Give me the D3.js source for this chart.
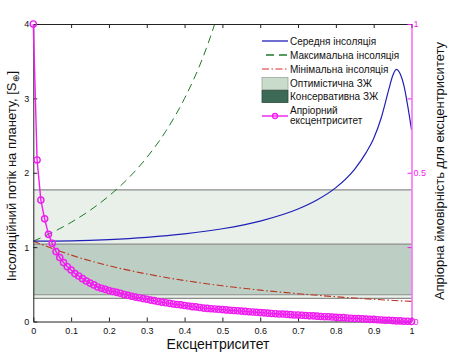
<!DOCTYPE html>
<html><head><meta charset="utf-8">
<script src="https://cdn.jsdelivr.net/npm/d3@7/dist/d3.min.js"></script>
<style>
html,body{margin:0;padding:0;background:#fff;}
svg{display:block;font-family:"Liberation Sans",Arial,sans-serif;}
</style></head>
<body><svg id="c" width="450" height="355"></svg>
<script>
// ---- data ----
const ecc = [0,0.01,0.02,0.03,0.04,0.05,0.06,0.07,0.08,0.09,0.10,0.11,0.12,0.13,0.14,0.15,0.16,0.17,0.18,0.19,0.20,0.21,0.22,0.23,0.24,0.25,0.26,0.27,0.28,0.29,0.30,0.31,0.32,0.33,0.34,0.35,0.36,0.37,0.38,0.39,0.40,0.41,0.42,0.43,0.44,0.45,0.46,0.47,0.48,0.49,0.50,0.51,0.52,0.53,0.54,0.55,0.56,0.57,0.58,0.59,0.60,0.61,0.62,0.63,0.64,0.65,0.66,0.67,0.68,0.69,0.70,0.71,0.72,0.73,0.74,0.75,0.76,0.77,0.78,0.79,0.80,0.81,0.82,0.83,0.84,0.85,0.86,0.87,0.88,0.89,0.90,0.91,0.92,0.93,0.94,0.95,0.96,0.97,0.98,0.99,1.00];
const priorProb = [1.000,0.543,0.408,0.345,0.293,0.263,0.235,0.215,0.198,0.184,0.173,0.161,0.153,0.144,0.136,0.129,0.123,0.116,0.112,0.108,0.104,0.101,0.098,0.095,0.091,0.088,0.085,0.082,0.080,0.077,0.075,0.072,0.070,0.067,0.065,0.063,0.061,0.059,0.057,0.056,0.054,0.052,0.050,0.049,0.047,0.045,0.044,0.043,0.042,0.041,0.040,0.039,0.038,0.037,0.036,0.035,0.034,0.033,0.032,0.031,0.030,0.029,0.028,0.027,0.026,0.025,0.025,0.024,0.023,0.022,0.022,0.021,0.020,0.019,0.019,0.018,0.017,0.016,0.016,0.015,0.014,0.013,0.013,0.012,0.011,0.010,0.010,0.009,0.008,0.007,0.007,0.006,0.005,0.004,0.004,0.003,0.002,0.002,0.001,0.001,0.000];

const meanE = [0,0.1,0.2,0.3,0.4,0.5,0.6,0.7,0.75,0.8,0.85,0.88,0.9,0.92,0.94,0.95,0.96,0.97,0.98,0.99,1.0];
const meanFlux = [1.08,1.085,1.102,1.132,1.178,1.247,1.35,1.512,1.633,1.80,2.05,2.27,2.46,2.74,3.12,3.30,3.39,3.33,3.17,2.90,2.58];

const maxE = [0,0.05,0.1,0.15,0.2,0.25,0.3,0.35,0.4,0.45,0.5];
const maxFlux = [1.08,1.197,1.333,1.495,1.688,1.92,2.204,2.556,3.0,3.57,4.32];

const minE = [0,0.1,0.2,0.3,0.4,0.5,0.6,0.7,0.8,0.9,1.0];
const minFlux = [1.08,0.893,0.75,0.639,0.551,0.48,0.422,0.374,0.333,0.299,0.27];

const optimisticZone = [0.31,1.77];
const conservativeZone = [0.36,1.04];

const xTicks = [0,0.1,0.2,0.3,0.4,0.5,0.6,0.7,0.8,0.9,1];
const xTickLabels = ["0","0.1","0.2","0.3","0.4","0.5","0.6","0.7","0.8","0.9","1"];
const yTicks = [0,1,2,3,4];
const yTickLabels = ["0","1","2","3","4"];
const yRTicks = [0,0.25,0.5,0.75,1];
const yRTickLabels = ["0","","0.5","","1"];

const legendLabels = ["Середня інсоляція","Максимальна інсоляція","Мінімальна інсоляція","Оптимістична ЗЖ","Консервативна ЗЖ","Апріорний","ексцентриситет"];

// ---- chart ----
const svg = d3.select("#c");
const L=33.3, R=411.5, T=24, B=321.5;
const x = d3.scaleLinear().domain([0,1]).range([L,R]);
const y = d3.scaleLinear().domain([0,4]).range([B,T]);
const yR = d3.scaleLinear().domain([0,1]).range([B,T]);

svg.append("defs").append("clipPath").attr("id","clip")
  .append("rect").attr("x",L).attr("y",T).attr("width",R-L).attr("height",B-T);

const cBlue="#2020b8", cGreen="#1e7a2a", cRed="#b8341e", cMag="#f01cf0";
const optFill="rgba(201,220,203,0.42)", conFill="rgba(60,106,86,0.25)";

const g = svg.append("g").attr("clip-path","url(#clip)");
// zones
g.append("rect").attr("x",L).attr("width",R-L)
  .attr("y",y(optimisticZone[1])).attr("height",y(optimisticZone[0])-y(optimisticZone[1]))
  .attr("fill",optFill);
g.append("rect").attr("x",L).attr("width",R-L)
  .attr("y",y(conservativeZone[1])).attr("height",y(conservativeZone[0])-y(conservativeZone[1]))
  .attr("fill",conFill);
[...optimisticZone,...conservativeZone].forEach(v=>{
  g.append("line").attr("x1",L).attr("x2",R).attr("y1",y(v)).attr("y2",y(v))
    .attr("stroke","#8c8c8c").attr("stroke-width",1.2);
});

const line = d3.line().curve(d3.curveMonotoneX);
g.append("path").attr("d",line(maxE.map((e,i)=>[x(e),y(maxFlux[i])])))
  .attr("fill","none").attr("stroke",cGreen).attr("stroke-width",1).attr("stroke-dasharray","8,5");
g.append("path").attr("d",line(minE.map((e,i)=>[x(e),y(minFlux[i])])))
  .attr("fill","none").attr("stroke",cRed).attr("stroke-width",1.1).attr("stroke-dasharray","7,2.5,1.5,2.5");
g.append("path").attr("d",line(meanE.map((e,i)=>[x(e),y(meanFlux[i])])))
  .attr("fill","none").attr("stroke",cBlue).attr("stroke-width",1.2);

// axes
const fontSize = 9;
const ax = svg.append("g");
const axLeft = ax.append("g").attr("transform",`translate(${L},0)`)
  .call(d3.axisLeft(y).tickValues(yTicks).tickFormat((d,i)=>yTickLabels[i]).tickSize(-4).tickSizeOuter(0).tickPadding(4));
const axBottom = ax.append("g").attr("transform",`translate(0,${B})`)
  .call(d3.axisBottom(x).tickValues(xTicks).tickFormat((d,i)=>xTickLabels[i]).tickSize(-4).tickSizeOuter(0).tickPadding(6));
const axTop = ax.append("g").attr("transform",`translate(0,${T})`)
  .call(d3.axisTop(x).tickValues(xTicks).tickFormat("").tickSize(-4).tickSizeOuter(0));
const axRight = ax.append("g").attr("transform",`translate(${R},0)`)
  .call(d3.axisRight(yR).tickValues(yRTicks).tickFormat((d,i)=>yRTickLabels[i]).tickSize(-4).tickSizeOuter(0).tickPadding(2));
[axLeft,axBottom,axTop].forEach(a=>{
  a.selectAll("path,line").attr("stroke","#222");
  a.selectAll("text").attr("fill","#111").style("font-size",fontSize+"px").style("font-family","Liberation Sans, Arial, sans-serif");
});
axRight.selectAll("path,line").attr("stroke",cMag);
axRight.selectAll("text").attr("fill",cMag).style("font-size",fontSize+"px").style("font-family","Liberation Sans, Arial, sans-serif");

// prior curve (on top, not clipped)
const pts = ecc.map((e,i)=>[x(e),yR(priorProb[i])]);
svg.append("path").attr("d",d3.line()(pts)).attr("fill","none").attr("stroke",cMag).attr("stroke-width",1.4);
svg.append("g").selectAll("circle").data(pts).join("circle")
  .attr("cx",d=>d[0]).attr("cy",d=>d[1]).attr("r",3.1)
  .attr("fill","none").attr("stroke",cMag).attr("stroke-width",1.4);

// titles
svg.append("text").attr("x",218).attr("y",349).attr("text-anchor","middle")
  .style("font-size","14px").attr("fill","#111").text("Ексцентриситет");
const lt = svg.append("text").attr("transform","translate(15.5,176) rotate(-90)")
  .attr("text-anchor","middle").style("font-size","13px").attr("fill","#111");
lt.append("tspan").text("Інсоляційний потік на планету, [S");
lt.append("tspan").text("⊕").style("font-size","9px").attr("dy","3");
lt.append("tspan").text("]").attr("dy","-3");
svg.append("text").attr("transform","translate(444,171) rotate(-90)")
  .attr("text-anchor","middle").style("font-size","13px").attr("fill","#111")
  .text("Апріорна ймовірність для ексцентриситету");

// legend
const lg = svg.append("g").style("font-size","10px");
const lx0=262, lx1=288, tx=290;
const rowY=[41,55,69,83.5,96.5];
lg.append("line").attr("x1",lx0).attr("x2",lx1).attr("y1",rowY[0]).attr("y2",rowY[0]).attr("stroke",cBlue).attr("stroke-width",1.3);
lg.append("line").attr("x1",lx0).attr("x2",lx1).attr("y1",rowY[1]).attr("y2",rowY[1]).attr("stroke",cGreen).attr("stroke-width",1.3).attr("stroke-dasharray","8,5").attr("stroke-dashoffset","-4");
lg.append("line").attr("x1",lx0).attr("x2",lx1).attr("y1",rowY[2]).attr("y2",rowY[2]).attr("stroke","#e02a2a").attr("stroke-width",1.2).attr("stroke-dasharray","7,2.5,1.5,2.5");
lg.append("rect").attr("x",lx0).attr("y",rowY[3]-6).attr("width",lx1-lx0).attr("height",12).attr("fill","#c9dccb").attr("stroke","#9aa89c").attr("stroke-width",0.8);
lg.append("rect").attr("x",lx0).attr("y",rowY[4]-6).attr("width",lx1-lx0).attr("height",12).attr("fill","#3c6a56").attr("stroke","#2c4c3e").attr("stroke-width",0.8);
lg.append("line").attr("x1",lx0).attr("x2",lx1).attr("y1",116).attr("y2",116).attr("stroke",cMag).attr("stroke-width",1.4);
lg.append("circle").attr("cx",(lx0+lx1)/2).attr("cy",116).attr("r",2.5).attr("fill","none").attr("stroke",cMag).attr("stroke-width",1.3);
const textY=[41,55,69,83.5,96.5,110,120];
legendLabels.forEach((t,i)=>{
  lg.append("text").attr("x",tx).attr("y",textY[i]).attr("dy","0.35em").attr("fill","#111").text(t);
});
</script></body></html>
